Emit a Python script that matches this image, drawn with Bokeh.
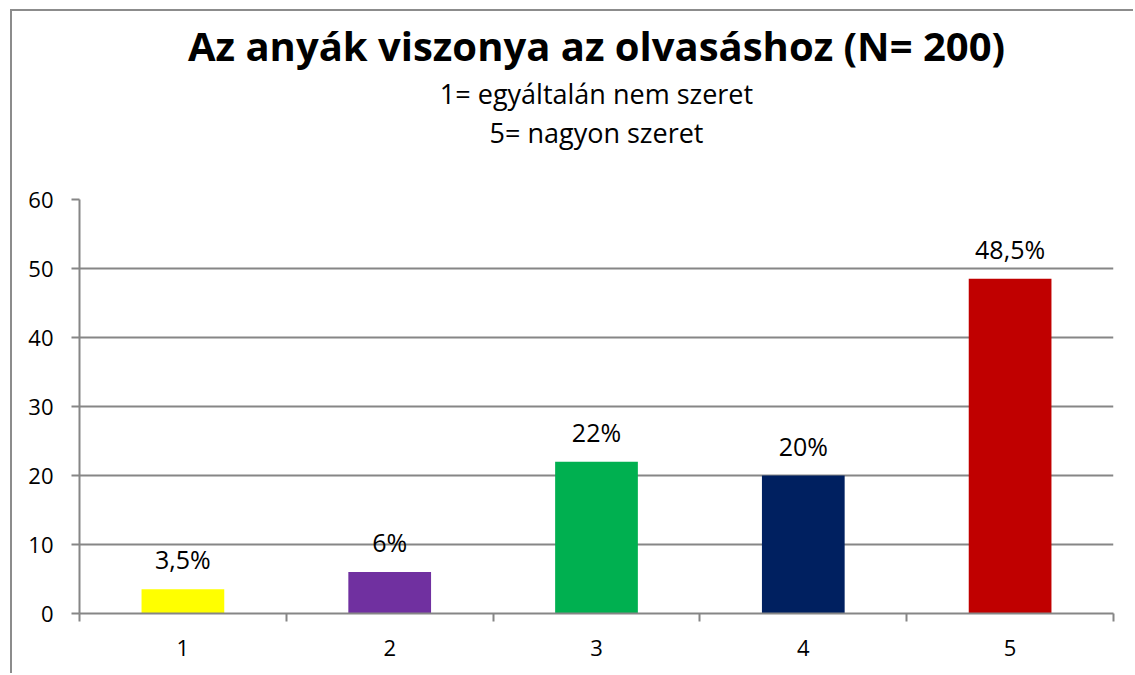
from bokeh.plotting import figure
from bokeh.models import ColumnDataSource, FixedTicker, LabelSet, Range1d, Title
from bokeh.core.properties import value
from bokeh.embed import file_html
from bokeh.resources import INLINE

categories = [1, 2, 3, 4, 5]
values = [3.5, 6, 22, 20, 48.5]
labels = ["3,5%", "6%", "22%", "20%", "48,5%"]
colors = ["#FFFF00", "#7030A0", "#00B050", "#002060", "#C00000"]
y_ticks = [0, 10, 20, 30, 40, 50, 60]

title_text = "Az anyák viszonya az olvasáshoz (N= 200)"
subtitle_1 = "1= egyáltalán nem szeret"
subtitle_2 = "5= nagyon szeret"

FONT = "Open Sans"
GRAY = "#868686"

src = ColumnDataSource(dict(x=categories, top=values, lab=labels, color=colors))

p = figure(width=1123, height=664, output_backend="svg", toolbar_location=None,
           x_range=Range1d(0.5, 5.5), y_range=Range1d(0, 60),
           min_border_left=67, min_border_right=22, min_border_top=188, min_border_bottom=62)
p.styles = {"border-left": "2px solid #8c8c8c", "border-top": "2px solid #8c8c8c",
            "margin-left": "10px", "margin-top": "9px"}
p.outline_line_color = None
p.background_fill_color = "white"
p.border_fill_color = "white"

p.vbar(x="x", top="top", width=0.4, color="color", source=src, line_color=None)

p.add_layout(LabelSet(x="x", y="top", text="lab", source=src, text_align="center",
                      text_baseline="alphabetic", y_offset=20, text_font=value(FONT),
                      text_font_size="25px", text_color="#000000"))

# axes
p.xaxis.ticker = FixedTicker(ticks=categories, minor_ticks=[0.5, 1.5, 2.5, 3.5, 4.5, 5.5])
p.xaxis.major_tick_out = 0
p.xaxis.major_tick_in = 0
p.xaxis.minor_tick_out = 8
p.xaxis.minor_tick_in = 0
p.xaxis.minor_tick_line_color = GRAY
p.xaxis.minor_tick_line_width = 2
p.xaxis.major_label_standoff = 18
p.yaxis.ticker = FixedTicker(ticks=y_ticks)
p.yaxis.major_tick_out = 8
p.yaxis.major_tick_in = 0
p.yaxis.minor_tick_out = 0
p.yaxis.minor_tick_in = 0
p.yaxis.major_tick_line_color = GRAY
p.yaxis.major_tick_line_width = 2
p.yaxis.major_label_standoff = 18
for ax in (p.xaxis, p.yaxis):
    ax.axis_line_color = GRAY
    ax.axis_line_width = 2
    ax.major_label_text_font = FONT
    ax.major_label_text_font_size = "22px"
    ax.major_label_text_color = "#000000"

p.xgrid.grid_line_color = None
p.ygrid.ticker = FixedTicker(ticks=y_ticks)
p.ygrid.grid_line_color = GRAY
p.ygrid.grid_line_width = 2

# titles (added from the plot outward); first one is an empty spacer
p.add_layout(Title(text=" ", align="center", text_font=FONT, text_font_size="27px",
                   standoff=10), "above")
p.add_layout(Title(text=subtitle_2, align="center", text_font=FONT, text_font_size="27px",
                   text_font_style="normal", text_color="#000000", standoff=0), "above")
p.add_layout(Title(text=subtitle_1, align="center", text_font=FONT, text_font_size="27px",
                   text_font_style="normal", text_color="#000000", standoff=0), "above")
p.add_layout(Title(text=title_text, align="center", text_font=FONT, text_font_size="40px",
                   text_font_style="bold", text_color="#000000", standoff=0), "above")

open("out.html", "w").write(file_html(p, INLINE))
